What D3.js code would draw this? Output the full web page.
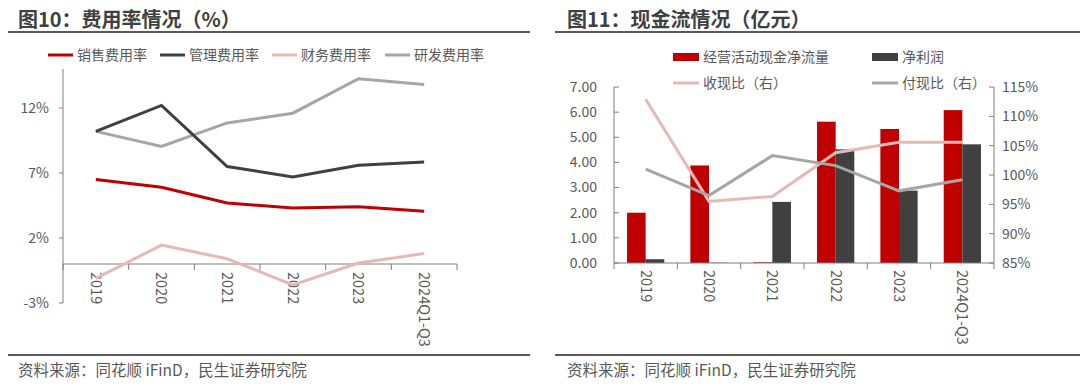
<!DOCTYPE html>
<html>
<head>
<meta charset="utf-8">
<script src="https://cdn.jsdelivr.net/npm/d3@7"></script>
<style>
  body { margin: 0; background: #fff; }
  svg text { font-family: "Noto Sans CJK SC", "Noto Sans", sans-serif; }
</style>
</head>
<body>
<svg id="chart" width="1080" height="389"></svg>
<script>
// left chart: expense ratios (%)
var years = ["2019", "2020", "2021", "2022", "2023", "2024Q1-Q3"];
var salesRate = [6.5, 5.9, 4.7, 4.3, 4.4, 4.05];
var adminRate = [10.2, 12.2, 7.5, 6.7, 7.6, 7.85];
var financeRate = [-1.1, 1.45, 0.4, -1.6, 0.08, 0.8];
var rdRate = [10.2, 9.05, 10.85, 11.6, 14.25, 13.8];
var leftTicks = [-3, 2, 7, 12];

// right chart: cash flow (亿元)
var opCashFlow = [2.0, 3.88, 0.03, 5.62, 5.33, 6.08];
var netProfit = [0.15, 0.01, 2.43, 4.52, 2.88, 4.72];
var receiptRatio = [112.9, 95.5, 96.35, 103.8, 105.6, 105.6];
var paymentRatio = [101.0, 96.5, 103.3, 101.6, 97.3, 99.2];
var cashTicks = [0, 1, 2, 3, 4, 5, 6, 7];
var ratioTicks = [85, 90, 95, 100, 105, 110, 115];

var RED = "#c00000", DARK = "#404040", PINK = "#e6b9b8", LIGHT = "#a6a6a6";
var TXT = "#595959";

var svg = d3.select("#chart");

function header(x0, x1, tx, title) {
    svg.append("text").attr("x", tx).attr("y", 27)
        .attr("font-size", 20).attr("font-weight", "bold").attr("fill", "#404040")
        .text(title);
    svg.append("line").attr("x1", x0).attr("x2", x1).attr("y1", 32).attr("y2", 32)
        .attr("stroke", "#595959").attr("stroke-width", 2);
    svg.append("line").attr("x1", x0).attr("x2", x1).attr("y1", 355).attr("y2", 355)
        .attr("stroke", "#595959").attr("stroke-width", 2);
    svg.append("text").attr("x", tx).attr("y", 376)
        .attr("font-size", 15.5).attr("fill", TXT)
        .text("资料来源：同花顺 iFinD，民生证券研究院");
}

header(8, 530, 18, "图10：费用率情况（%）");
header(555, 1080, 567, "图11：现金流情况（亿元）");

// ---------- left chart ----------
var x1 = d3.scaleBand().domain(years).range([63, 457]);
var y1 = d3.scaleLinear().domain([-3, 15]).range([303, 69]);

var gl = svg.append("g");
gl.append("line").attr("x1", 63).attr("x2", 63).attr("y1", y1(15)).attr("y2", y1(-3))
    .attr("stroke", "#7f7f7f");
leftTicks.forEach(function (t) {
    gl.append("line").attr("x1", 59).attr("x2", 63).attr("y1", y1(t)).attr("y2", y1(t))
        .attr("stroke", "#7f7f7f");
    gl.append("text").attr("x", 49).attr("y", y1(t)).attr("dy", "0.35em")
        .attr("text-anchor", "end").attr("font-size", 14).attr("fill", TXT)
        .text(t + "%");
});
gl.append("line").attr("x1", 63).attr("x2", 457).attr("y1", y1(0)).attr("y2", y1(0))
    .attr("stroke", "#7f7f7f");
d3.range(years.length + 1).forEach(function (i) {
    var xx = x1.range()[0] + i * x1.step();
    gl.append("line").attr("x1", xx).attr("x2", xx).attr("y1", y1(0)).attr("y2", y1(0) + 6)
        .attr("stroke", "#7f7f7f");
});
years.forEach(function (d) {
    var cx = x1(d) + x1.bandwidth() / 2;
    gl.append("text").attr("transform", "translate(" + cx + ",272) rotate(90)")
        .attr("dy", "0.35em").attr("font-size", 14.5).attr("fill", TXT).text(d);
});

var leftSeries = [
    {name: "销售费用率", values: salesRate, color: RED},
    {name: "管理费用率", values: adminRate, color: DARK},
    {name: "财务费用率", values: financeRate, color: PINK},
    {name: "研发费用率", values: rdRate, color: LIGHT}
];
var line1 = d3.line()
    .x(function (d, i) { return x1(years[i]) + x1.bandwidth() / 2; })
    .y(function (d) { return y1(d); });
leftSeries.slice().reverse().forEach(function (s) {
    gl.append("path").datum(s.values).attr("d", line1)
        .attr("fill", "none").attr("stroke", s.color).attr("stroke-width", 3);
});
var legendX = [48, 160, 272, 385];
leftSeries.forEach(function (s, i) {
    gl.append("line").attr("x1", legendX[i]).attr("x2", legendX[i] + 25)
        .attr("y1", 55).attr("y2", 55).attr("stroke", s.color).attr("stroke-width", 3);
    gl.append("text").attr("x", legendX[i] + 29).attr("y", 55).attr("dy", "0.35em")
        .attr("font-size", 14).attr("fill", TXT).text(s.name);
});

// ---------- right chart ----------
var x2 = d3.scaleBand().domain(years).range([614, 994]);
var y2 = d3.scaleLinear().domain([0, 7]).range([263, 87]);
var y3 = d3.scaleLinear().domain([85, 115]).range([263, 87]);
var xs = d3.scaleBand().domain(["op", "np"]).range([0, x2.bandwidth()]).paddingOuter(0.7).paddingInner(0);

var gr = svg.append("g");
years.forEach(function (d, i) {
    gr.append("rect").attr("x", x2(d) + xs("op")).attr("width", xs.bandwidth())
        .attr("y", y2(opCashFlow[i])).attr("height", y2(0) - y2(opCashFlow[i]))
        .attr("fill", RED);
    gr.append("rect").attr("x", x2(d) + xs("np")).attr("width", xs.bandwidth())
        .attr("y", y2(netProfit[i])).attr("height", y2(0) - y2(netProfit[i]))
        .attr("fill", DARK);
});

gr.append("line").attr("x1", 614).attr("x2", 614).attr("y1", 87).attr("y2", 263).attr("stroke", "#7f7f7f");
gr.append("line").attr("x1", 994).attr("x2", 994).attr("y1", 87).attr("y2", 263).attr("stroke", "#7f7f7f");
cashTicks.forEach(function (t) {
    gr.append("line").attr("x1", 614).attr("x2", 619).attr("y1", y2(t)).attr("y2", y2(t)).attr("stroke", "#7f7f7f");
    gr.append("text").attr("x", 597).attr("y", y2(t)).attr("dy", "0.35em")
        .attr("text-anchor", "end").attr("font-size", 14).attr("fill", TXT)
        .text(d3.format(".2f")(t));
});
ratioTicks.forEach(function (t) {
    gr.append("line").attr("x1", 989).attr("x2", 994).attr("y1", y3(t)).attr("y2", y3(t)).attr("stroke", "#7f7f7f");
    gr.append("text").attr("x", 1002).attr("y", y3(t)).attr("dy", "0.35em")
        .attr("font-size", 14).attr("fill", TXT).text(t + "%");
});
gr.append("line").attr("x1", 614).attr("x2", 994).attr("y1", 263).attr("y2", 263).attr("stroke", "#7f7f7f");
d3.range(years.length + 1).forEach(function (i) {
    var xx = x2.range()[0] + i * x2.step();
    gr.append("line").attr("x1", xx).attr("x2", xx).attr("y1", 263).attr("y2", 269).attr("stroke", "#7f7f7f");
});
years.forEach(function (d) {
    var cx = x2(d) + x2.bandwidth() / 2;
    gr.append("text").attr("transform", "translate(" + cx + ",270) rotate(90)")
        .attr("dy", "0.35em").attr("font-size", 14.5).attr("fill", TXT).text(d);
});

var line2 = d3.line()
    .x(function (d, i) { return x2(years[i]) + x2.bandwidth() / 2; })
    .y(function (d) { return y3(d); });
gr.append("path").datum(receiptRatio).attr("d", line2)
    .attr("fill", "none").attr("stroke", PINK).attr("stroke-width", 3);
gr.append("path").datum(paymentRatio).attr("d", line2)
    .attr("fill", "none").attr("stroke", LIGHT).attr("stroke-width", 3);

// legend
var legendItems = [
    {name: "经营活动现金净流量", color: RED, type: "rect", x: 673, y: 57},
    {name: "净利润", color: DARK, type: "rect", x: 872, y: 57},
    {name: "收现比（右）", color: PINK, type: "line", x: 673, y: 83},
    {name: "付现比（右）", color: LIGHT, type: "line", x: 872, y: 83}
];
legendItems.forEach(function (d) {
    if (d.type == "rect") {
        gr.append("rect").attr("x", d.x).attr("y", d.y - 4).attr("width", 26).attr("height", 8).attr("fill", d.color);
    } else {
        gr.append("line").attr("x1", d.x).attr("x2", d.x + 26).attr("y1", d.y).attr("y2", d.y)
            .attr("stroke", d.color).attr("stroke-width", 3);
    }
    gr.append("text").attr("x", d.x + 30).attr("y", d.y).attr("dy", "0.35em")
        .attr("font-size", 14).attr("fill", TXT).text(d.name);
});
</script>
</body>
</html>
